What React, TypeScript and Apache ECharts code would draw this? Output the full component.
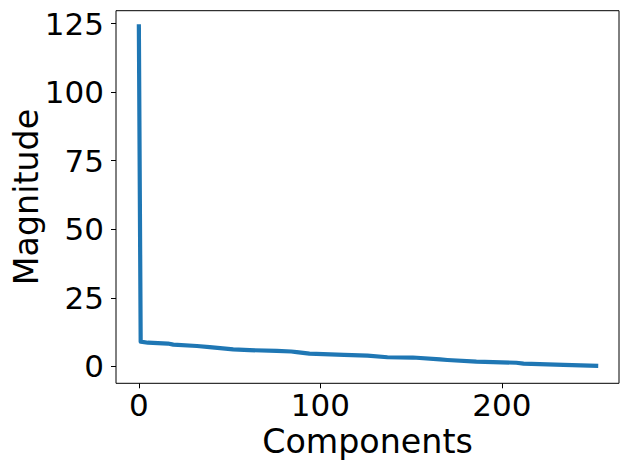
import React, { useEffect, useRef } from "react";
import * as echarts from "echarts";

const componentIdx = [0, 1, 5, 16, 19, 32, 39, 52, 61, 76, 84, 87, 94, 113, 126, 137, 151, 166, 170, 186, 208, 212, 234, 252];
const magnitudes = [124, 9.0, 8.6, 8.3, 7.9, 7.4, 7.0, 6.2, 5.9, 5.6, 5.4, 5.2, 4.6, 4.2, 3.9, 3.3, 3.2, 2.5, 2.3, 1.7, 1.3, 1.0, 0.5, 0.2];
const xTicks = [0, 100, 200];
const yTicks = [0, 25, 50, 75, 100, 125];

const FONT = "DejaVu Sans";

export default function App() {
  const ref = useRef<HTMLDivElement>(null);
  useEffect(() => {
    if (!ref.current) return;
    const chart = echarts.init(ref.current, undefined, { renderer: "svg" });
    const data = componentIdx.map((x, i) => [x, magnitudes[i]]);
    chart.setOption({
      animation: false,
      backgroundColor: "#ffffff",
      grid: {
        left: 116,
        top: 10.7,
        right: 11,
        bottom: 86.7,
        containLabel: false,
        outerBoundsMode: "none",
        show: true,
        borderColor: "#000000",
        borderWidth: 1,
        backgroundColor: "transparent",
      },
      xAxis: {
        type: "value",
        min: -12.6,
        max: 264.6,
        name: "Components",
        nameLocation: "middle",
        nameGap: 42,
        nameMoveOverlap: false,
        nameTextStyle: { fontFamily: FONT, fontSize: 33.3, color: "#000" },
        axisLine: { show: false, onZero: false },
        axisTick: { show: true, inside: false, length: 5, lineStyle: { color: "#000", width: 1 }, customValues: xTicks },
        axisLabel: { fontFamily: FONT, fontSize: 31, color: "#000", margin: 6, customValues: xTicks },
        splitLine: { show: false },
      },
      yAxis: {
        type: "value",
        min: -6.2,
        max: 129.7,
        name: "Magnitude",
        nameLocation: "middle",
        nameGap: 73,
        nameRotate: 90,
        nameMoveOverlap: false,
        nameTextStyle: { fontFamily: FONT, fontSize: 33.3, color: "#000" },
        axisLine: { show: false, onZero: false },
        axisTick: { show: true, inside: false, length: 5, lineStyle: { color: "#000", width: 1 }, customValues: yTicks },
        axisLabel: { fontFamily: FONT, fontSize: 31, color: "#000", margin: 12, customValues: yTicks },
        splitLine: { show: false },
      },
      series: [
        {
          type: "line",
          data,
          showSymbol: false,
          symbol: "none",
          lineStyle: { color: "#1f77b4", width: 4.2, cap: "square", join: "round" },
        },
      ],
    });
    return () => chart.dispose();
  }, []);
  return (
    <div
      ref={ref}
      style={{ position: "fixed", left: 0, top: 0, width: 630, height: 470, background: "#fff" }}
    />
  );
}
